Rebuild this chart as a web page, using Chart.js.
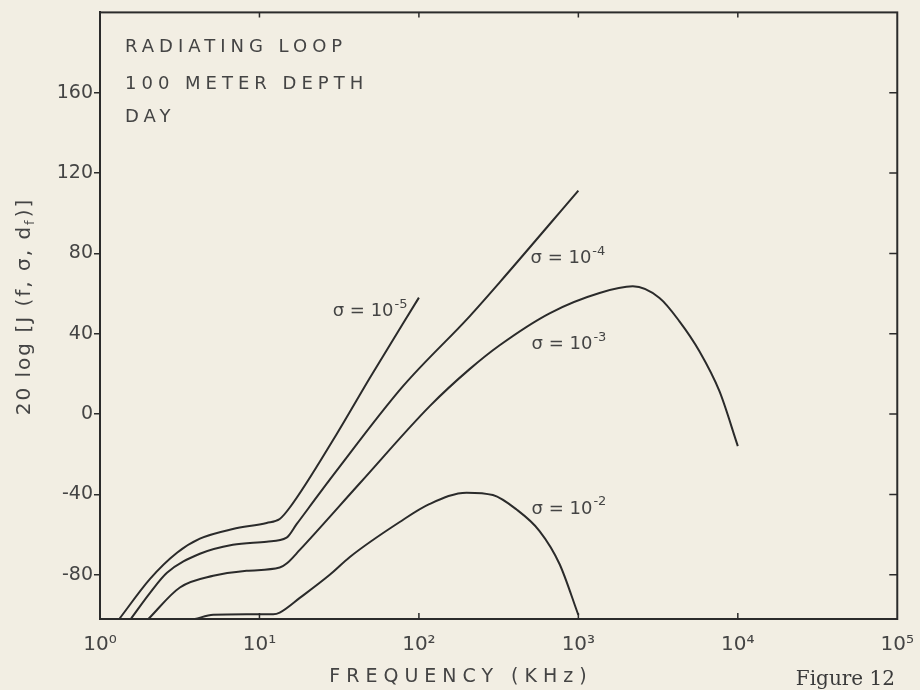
<!DOCTYPE html>
<html>
<head>
<meta charset="utf-8">
<script src="https://cdn.jsdelivr.net/npm/chart.js@4.4.1/dist/chart.umd.min.js"></script>
<style>
  html, body { margin: 0; padding: 0; background: #f2eee3; }
  #wrap { width: 920px; height: 690px; position: relative; }
</style>
</head>
<body>
<div id="wrap"><canvas id="fig12"></canvas></div>
<script>
// frequency (kHz) / 20 log J values, one pair of arrays per conductivity
const freqSigma5 = [1.32, 2.06, 3.04, 4.23, 6.81, 11.1, 13.4, 15.5, 30.4, 49.2, 100];
const levelSigma5 = [-102, -82, -69, -62, -57.2, -54.2, -52.2, -46.5, -10.1, 18.0, 58];

const freqSigma4 = [1.56, 2.06, 2.63, 4.23, 6.81, 11.1, 14.8, 17.1, 30.4, 79.5, 208, 321, 1000];
const levelSigma4 = [-102, -89, -79, -69.5, -65, -63.5, -61.5, -54.8, -28.3, 13.9, 48.7, 65.6, 111.3];

const freqSigma3 = [2.01, 3.17, 5.13, 8.30, 13.4, 14.8, 17.9, 42.6, 117, 208, 321, 660, 1358, 2195, 3228, 4305, 5743, 7670, 10000];
const levelSigma3 = [-102, -86.3, -80.5, -78.0, -76.4, -74.4, -67.6, -34.4, 4.0, 22.4, 34.3, 50.2, 60.3, 63.6, 57.8, 46.2, 31.3, 11.4, -15.9];

const freqSigma2 = [3.94, 5.13, 8.30, 12.2, 13.4, 17.9, 27.6, 36.9, 75.8, 117, 199, 291, 408, 571, 762, 1000];
const levelSigma2 = [-102, -99.9, -99.6, -99.6, -98.8, -91.5, -80.0, -71.1, -53.7, -44.7, -39.1, -40.3, -47.4, -58.2, -74.6, -100];

const xTickValues = [1, 10, 100, 1000, 10000, 100000];
const yTickValues = [-80, -40, 0, 40, 80, 120, 160];

// curve labels: exponent, anchor frequency, anchor level
const labelExp = ['-5', '-4', '-3', '-2'];
const labelFreq = [28.8, 501, 509, 509];
const labelLevel = [51.2, 77.5, 34.8, -47.2];

const PAPER = '#f2eee3';
const INK = '#2b2b2b';
const TEXT = '#444';
const SUP = { '0': '⁰', '1': '¹', '2': '²', '3': '³', '4': '⁴', '5': '⁵' };

const pts = (fs, ls) => fs.map((f, i) => ({ x: f, y: ls[i] }));
const curve = (fs, ls) => ({
  data: pts(fs, ls),
  borderColor: INK,
  borderWidth: 2,
  pointRadius: 0,
  cubicInterpolationMode: 'monotone',
  fill: false
});

function drawSigma(ctx, px, py, exp) {
  ctx.font = '18px "DejaVu Sans"';
  ctx.textBaseline = 'middle';
  ctx.textAlign = 'left';
  ctx.fillText('σ = 10', px, py);
  const w = ctx.measureText('σ = 10').width;
  ctx.font = '13px "DejaVu Sans"';
  ctx.fillText(exp, px + w + 1, py - 7);
}

const paper = {
  id: 'paper',
  beforeDraw(chart) {
    const ctx = chart.ctx;
    ctx.save();
    ctx.fillStyle = PAPER;
    ctx.fillRect(0, 0, chart.width, chart.height);
    ctx.restore();
  },
  afterDraw(chart) {
    const { ctx, chartArea: a, scales: { x, y } } = chart;
    ctx.save();
    ctx.strokeStyle = INK;
    ctx.lineWidth = 2;
    ctx.strokeRect(a.left, a.top, a.right - a.left, a.bottom - a.top);

    // inward ticks on top, bottom and right
    ctx.lineWidth = 1.5;
    ctx.beginPath();
    xTickValues.slice(1, -1).forEach(v => {
      const px = x.getPixelForValue(v);
      ctx.moveTo(px, a.bottom); ctx.lineTo(px, a.bottom - 6);
      ctx.moveTo(px, a.top); ctx.lineTo(px, a.top + 5);
    });
    yTickValues.forEach(v => {
      const py = y.getPixelForValue(v);
      ctx.moveTo(a.right, py); ctx.lineTo(a.right - 8, py);
    });
    ctx.stroke();

    ctx.fillStyle = TEXT;
    labelExp.forEach((e, i) => {
      drawSigma(ctx, x.getPixelForValue(labelFreq[i]), y.getPixelForValue(labelLevel[i]), e);
    });

    // header text
    ctx.font = '18px "DejaVu Sans"';
    ctx.letterSpacing = '5px';
    ctx.textAlign = 'left';
    ctx.textBaseline = 'middle';
    ctx.fillText('RADIATING LOOP', a.left + 25, a.top + 35);
    ctx.fillText('100 METER DEPTH', a.left + 25, a.top + 72);
    ctx.fillText('DAY', a.left + 25, a.top + 105);

    // x title
    ctx.font = '19px "DejaVu Sans"';
    ctx.letterSpacing = '6px';
    ctx.textAlign = 'center';
    ctx.fillText('FREQUENCY (KHz)', 461, 677);
    ctx.letterSpacing = '0px';

    // y title with subscript
    ctx.translate(25, 307);
    ctx.rotate(-Math.PI / 2);
    ctx.textAlign = 'left';
    ctx.letterSpacing = '2px';
    const p1 = '20 log [J (f, σ, d', p2 = 'f', p3 = ')]';
    ctx.font = '20px "DejaVu Sans"';
    const w1 = ctx.measureText(p1).width, w3 = ctx.measureText(p3).width;
    ctx.font = '13px "DejaVu Sans"';
    const w2 = ctx.measureText(p2).width;
    const sx = -(w1 + w2 + w3) / 2;
    ctx.font = '20px "DejaVu Sans"';
    ctx.fillText(p1, sx, 0);
    ctx.font = '13px "DejaVu Sans"';
    ctx.fillText(p2, sx + w1, 6);
    ctx.font = '20px "DejaVu Sans"';
    ctx.fillText(p3, sx + w1 + w2 + 1, 0);
    ctx.setTransform(1, 0, 0, 1, 0, 0);

    ctx.letterSpacing = '0px';
    ctx.font = '20px "DejaVu Serif"';
    ctx.textAlign = 'right';
    ctx.fillStyle = '#3a3a3a';
    ctx.fillText('Figure 12', 895, 680);
    ctx.restore();
  }
};

new Chart(document.getElementById('fig12'), {
  type: 'line',
  data: {
    datasets: [
      curve(freqSigma5, levelSigma5),
      curve(freqSigma4, levelSigma4),
      curve(freqSigma3, levelSigma3),
      curve(freqSigma2, levelSigma2)
    ]
  },
  options: {
    responsive: true,
    maintainAspectRatio: false,
    animation: false,
    layout: { padding: { left: 0, right: 22, top: 10, bottom: 0 } },
    plugins: { legend: { display: false }, tooltip: { enabled: false } },
    scales: {
      x: {
        type: 'logarithmic',
        min: 1,
        max: 100000,
        afterBuildTicks: s => { s.ticks = xTickValues.map(v => ({ value: v })); },
        afterFit: s => { s.height = 71; },
        grid: { display: false },
        border: { display: true, color: INK, width: 2 },
        ticks: {
          autoSkip: false,
          maxRotation: 0,
          padding: 6,
          color: TEXT,
          font: { family: 'DejaVu Sans', size: 20 },
          callback: v => '10' + SUP[String(Math.round(Math.log10(v)))]
        }
      },
      y: {
        type: 'linear',
        min: -102,
        max: 200,
        afterBuildTicks: s => { s.ticks = yTickValues.map(v => ({ value: v })); },
        afterFit: s => { s.width = 100; },
        grid: { drawOnChartArea: false, tickLength: 6, color: INK, lineWidth: 1.5 },
        border: { display: true, color: INK, width: 2 },
        ticks: {
          padding: 1,
          color: TEXT,
          font: { family: 'DejaVu Sans', size: 19 }
        }
      }
    }
  },
  plugins: [paper]
});
</script>
</body>
</html>
